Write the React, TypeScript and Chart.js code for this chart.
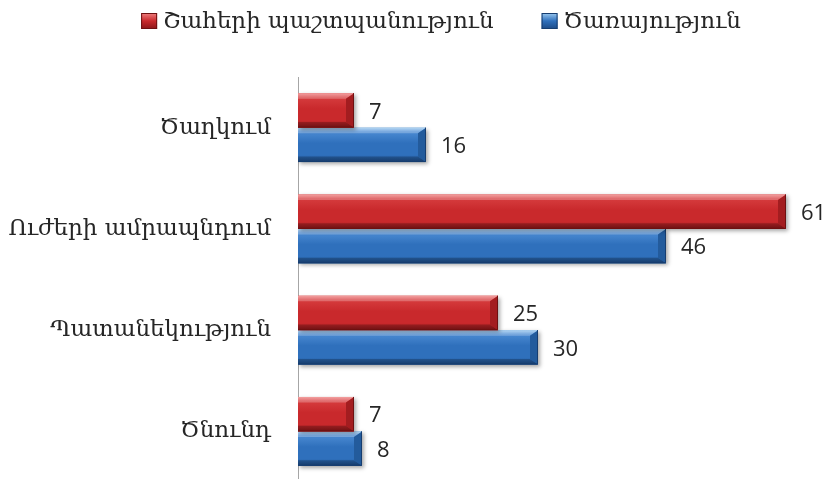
import React, { useEffect, useRef } from "react";
import { Chart, registerables } from "chart.js";

Chart.register(...registerables);

// ---- data ----
const categories = ["Ծաղկում", "Ուժերի ամրապնդում", "Պատանեկություն", "Ծնունդ"];
const seriesNames = ["Շահերի պաշտպանություն", "Ծառայություն"];
const advocacyValues = [7, 61, 25, 7];
const serviceValues = [16, 46, 30, 8];
const xMax = 66;

// ---- styles ----
const SERIF = "'DejaVu Serif', serif";
const SANS = "'Open Sans', 'Liberation Sans', sans-serif";
const palettes = [
  { base: "#c9292c", light: "#ef8080", mid: "#d63c3e", dark: "#8a1618", bevel: "#a31d20", edge: "#6e1011" },
  { base: "#2f70bc", light: "#9ccaf0", mid: "#4a8ad2", dark: "#1c4a86", bevel: "#235b9c", edge: "#163d70" },
];

const barStylePlugin = {
  id: "barStyle",
  beforeDatasetDraw(chart: any) {
    const ctx = chart.ctx;
    ctx.save();
    ctx.shadowColor = "rgba(0,0,0,0.35)";
    ctx.shadowBlur = 4;
    ctx.shadowOffsetX = 2;
    ctx.shadowOffsetY = 2;
  },
  afterDatasetDraw(chart: any, args: any) {
    const ctx = chart.ctx;
    ctx.restore();
    const p = palettes[args.index % palettes.length];
    const meta = args.meta;
    ctx.save();
    meta.data.forEach((el: any) => {
      const { x, y, base, height } = el.getProps(["x", "y", "base", "height"], true);
      const top = y - height / 2;
      const bottom = y + height / 2;
      const left = Math.min(base, x);
      const right = Math.max(base, x);
      const w = right - left;
      if (w <= 0) return;
      const g = ctx.createLinearGradient(0, top, 0, bottom);
      g.addColorStop(0, p.light);
      g.addColorStop(0.12, p.mid);
      g.addColorStop(0.45, p.base);
      g.addColorStop(0.8, p.base);
      g.addColorStop(1, p.dark);
      ctx.fillStyle = g;
      ctx.fillRect(left, top, w, height);
      const b = Math.min(8, w / 2, height / 4);
      ctx.fillStyle = "rgba(255,255,255,0.25)";
      ctx.beginPath();
      ctx.moveTo(left, top);
      ctx.lineTo(right, top);
      ctx.lineTo(right - b, top + b * 0.7);
      ctx.lineTo(left, top + b * 0.7);
      ctx.closePath();
      ctx.fill();
      ctx.fillStyle = "rgba(0,0,0,0.2)";
      ctx.beginPath();
      ctx.moveTo(left, bottom);
      ctx.lineTo(right, bottom);
      ctx.lineTo(right - b, bottom - b * 0.7);
      ctx.lineTo(left, bottom - b * 0.7);
      ctx.closePath();
      ctx.fill();
      ctx.fillStyle = p.bevel;
      ctx.beginPath();
      ctx.moveTo(right, top);
      ctx.lineTo(right, bottom);
      ctx.lineTo(right - b, bottom - b * 0.7);
      ctx.lineTo(right - b, top + b * 0.7);
      ctx.closePath();
      ctx.fill();
      ctx.strokeStyle = p.edge;
      ctx.lineWidth = 1;
      ctx.beginPath();
      ctx.moveTo(left, bottom - 0.5);
      ctx.lineTo(right - 0.5, bottom - 0.5);
      ctx.lineTo(right - 0.5, top);
      ctx.stroke();
    });
    ctx.restore();
  },
};

const valueLabelPlugin = {
  id: "valueLabels",
  afterDatasetsDraw(chart: any) {
    const ctx = chart.ctx;
    ctx.save();
    ctx.font = `22px ${SANS}`;
    ctx.fillStyle = "#262626";
    ctx.textAlign = "left";
    ctx.textBaseline = "middle";
    chart.data.datasets.forEach((ds: any, di: number) => {
      const meta = chart.getDatasetMeta(di);
      meta.data.forEach((el: any, i: number) => {
        const { x, y } = el.getProps(["x", "y"], true);
        ctx.fillText(String(ds.data[i]), x + 15, y + 2);
      });
    });
    ctx.restore();
  },
};

const legendPlugin = {
  id: "customLegend",
  afterDraw(chart: any) {
    const ctx = chart.ctx;
    ctx.save();
    ctx.font = `23px ${SERIF}`;
    ctx.textBaseline = "middle";
    ctx.textAlign = "left";
    const box = 16;
    const gapText = 6;
    const gapItems = 48;
    const items = chart.data.datasets.map((ds: any, i: number) => ({
      text: ds.label,
      p: palettes[i],
      w: box + gapText + ctx.measureText(ds.label).width,
    }));
    const total = items.reduce((s: number, it: any) => s + it.w, 0) + gapItems * (items.length - 1);
    let x = 441 - total / 2;
    const cy = 21;
    items.forEach((it: any) => {
      const top = cy - box / 2;
      const g = ctx.createLinearGradient(0, top, 0, top + box);
      g.addColorStop(0, it.p.light);
      g.addColorStop(0.5, it.p.base);
      g.addColorStop(1, it.p.dark);
      ctx.fillStyle = g;
      ctx.fillRect(x, top, box, box);
      ctx.strokeStyle = it.p.edge;
      ctx.lineWidth = 1;
      ctx.strokeRect(x + 0.5, top + 0.5, box - 1, box - 1);
      ctx.fillStyle = "#262626";
      ctx.fillText(it.text, x + box + gapText, cy + 1);
      x += it.w + gapItems;
    });
    ctx.restore();
  },
};

export default function App() {
  const ref = useRef<HTMLCanvasElement | null>(null);
  useEffect(() => {
    if (!ref.current) return;
    const chart = new Chart(ref.current, {
      type: "bar",
      data: {
        labels: categories,
        datasets: [
          { label: seriesNames[0], data: advocacyValues, backgroundColor: palettes[0].base, borderWidth: 0 },
          { label: seriesNames[1], data: serviceValues, backgroundColor: palettes[1].base, borderWidth: 0 },
        ],
      },
      options: {
        indexAxis: "y",
        responsive: true,
        maintainAspectRatio: false,
        animation: false,
        devicePixelRatio: 1,
        categoryPercentage: 0.68,
        barPercentage: 1.0,
        layout: { padding: { top: 77, bottom: 8, left: 0, right: 3 } },
        plugins: { legend: { display: false }, tooltip: { enabled: false } },
        scales: {
          x: { display: false, min: 0, max: xMax },
          y: {
            grid: { display: false, drawTicks: false },
            border: { display: true, color: "#a6a6a6", width: 1 },
            ticks: { color: "#262626", font: { family: SERIF, size: 23 }, padding: 27 },
            afterFit: (scale: any) => {
              scale.width = 298;
              scale.paddingTop = 0;
              scale.paddingBottom = 0;
            },
          },
        },
      } as any,
      plugins: [barStylePlugin, valueLabelPlugin, legendPlugin],
    });
    return () => chart.destroy();
  }, []);
  return (
    <div style={{ position: "fixed", left: 0, top: 0, width: 829, height: 479, overflow: "hidden", background: "#fff" }}>
      <div style={{ position: "relative", width: 829, height: 490 }}>
        <canvas ref={ref} />
      </div>
    </div>
  );
}
